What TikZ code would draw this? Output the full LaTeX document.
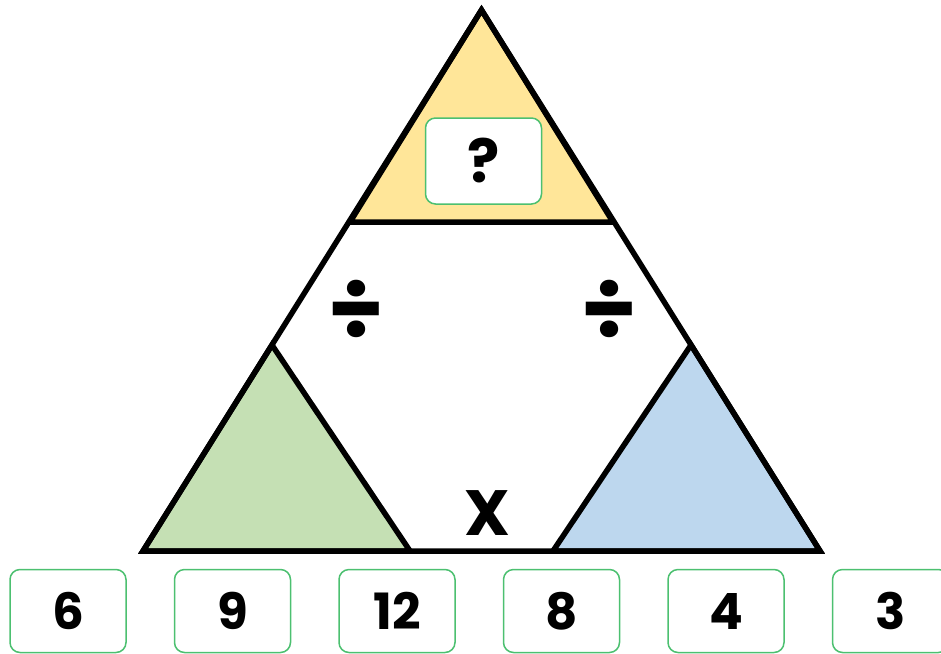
\documentclass[tikz,border=0pt]{standalone}
\usepackage{fontspec}
\setmainfont{Poppins}
\usetikzlibrary{positioning}
\definecolor{topfill}{HTML}{FFE699}
\definecolor{leftfill}{HTML}{C5E0B4}
\definecolor{rightfill}{HTML}{BDD7EE}
\definecolor{boxline}{HTML}{4CC070}

\begin{document}
\begin{tikzpicture}[x=1pt,y=-1pt,line join=miter,
  numbox/.style={draw=boxline,line width=1.5pt,fill=white,rounded corners=10pt,
    minimum width=116pt,minimum height=83pt,inner sep=0pt,
    font=\fontsize{50}{54}\selectfont\bfseries},
  sign/.style={inner sep=0pt,font=\fontsize{90}{94}\selectfont\bfseries}]
  \useasboundingbox (0,0) rectangle (941,653);
  \coordinate (apex) at (481.5,10);
  \coordinate (bl) at (143,551);
  \coordinate (br) at (820,551);
  % the three corner parts
  \filldraw[fill=topfill,line width=5.5pt] (apex) -- (350,222) -- (613,222) -- cycle;
  \filldraw[fill=leftfill,line width=5.5pt] (272,345) -- (bl) -- (410,551) -- cycle;
  \filldraw[fill=rightfill,line width=5.5pt] (691,345) -- (553,551) -- (br) -- cycle;
  \draw[line width=5.5pt] (apex) -- (bl) -- (br) -- cycle;

  \node[numbox,minimum height=86pt,font=\fontsize{60}{64}\selectfont\bfseries] (ask) at (483.5,161) {?};
  \node[sign] (divl) at (356,310) {÷};
  \node[sign] (divr) at (609,310) {÷};
  \node[sign,font=\fontsize{64}{68}\selectfont\bfseries] (times) at (487,513) {X};

  % numbers to choose from
  \node[numbox] (n6) at (68,611) {6};
  \node[numbox,right=47pt of n6] (n9) {9};
  \node[numbox,right=47pt of n9] (n12) {12};
  \node[numbox,right=47pt of n12] (n8) {8};
  \node[numbox,right=47pt of n8] (n4) {4};
  \node[numbox,right=47pt of n4] (n3) {3};
\end{tikzpicture}
\end{document}
